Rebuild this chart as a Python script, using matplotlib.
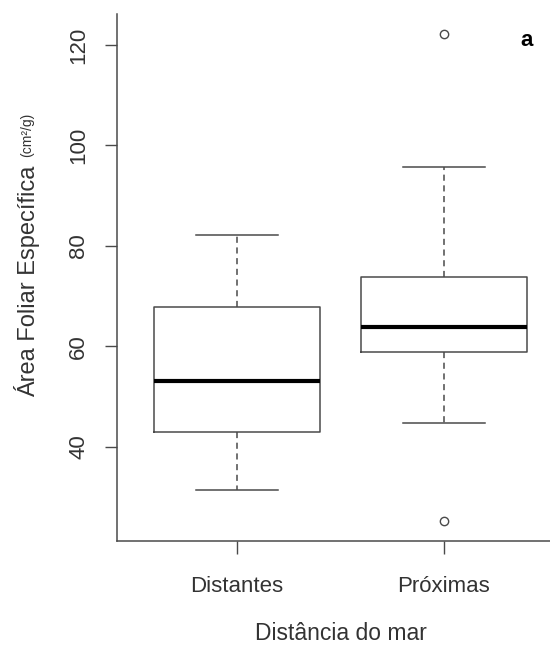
"""Boxplot: specific leaf area by distance from the sea (R-style)."""

import matplotlib

matplotlib.use("Agg")
import matplotlib.pyplot as plt

plt.rcParams["font.family"] = ["Liberation Sans", "DejaVu Sans"]

# Summary values (cm²/g)
GROUPS = ["Distantes", "Próximas"]
MEDIANS = [53.1, 63.8]
Q1 = [42.9, 58.9]
Q3 = [67.9, 73.7]
WHISKER_LOW = [31.3, 44.8]
WHISKER_HIGH = [82.2, 95.7]
OUTLIERS = [[], [122.3, 25.1]]
Y_TICKS = [40, 60, 80, 100, 120]

TEXT_COLOR = "#333333"
LINE_COLOR = "#4a4a4a"

stats = [
    {
        "label": name,
        "med": med,
        "q1": lo,
        "q3": hi,
        "whislo": wlo,
        "whishi": whi,
        "fliers": fl,
    }
    for name, med, lo, hi, wlo, whi, fl in zip(
        GROUPS, MEDIANS, Q1, Q3, WHISKER_LOW, WHISKER_HIGH, OUTLIERS
    )
]

fig = plt.figure(figsize=(5.5, 6.46), dpi=100)
ax = fig.add_axes([117 / 550, 105 / 646, 447 / 550, 527 / 646])

ax.bxp(
    stats,
    positions=[1, 2],
    widths=0.8,
    capwidths=0.4,
    boxprops={"color": LINE_COLOR, "linewidth": 1.1},
    whiskerprops={"color": LINE_COLOR, "linewidth": 1.1, "linestyle": (0, (4, 3))},
    capprops={"color": LINE_COLOR, "linewidth": 1.1},
    medianprops={"color": "black", "linewidth": 3},
    flierprops={
        "marker": "o",
        "markersize": 6,
        "markerfacecolor": "none",
        "markeredgecolor": LINE_COLOR,
        "markeredgewidth": 1.0,
    },
)

ax.set_xlim(0.42, 2.58)
ax.set_ylim(21.2, 126.2)

for side in ("top", "right"):
    ax.spines[side].set_visible(False)
for side in ("left", "bottom"):
    ax.spines[side].set_color(LINE_COLOR)
    ax.spines[side].set_linewidth(1.1)

ax.set_yticks(Y_TICKS)
ax.set_yticklabels([str(v) for v in Y_TICKS], rotation=90, va="center")
ax.set_xticks([1, 2])
ax.set_xticklabels(GROUPS)
ax.tick_params(axis="both", length=9, width=1.0, color=LINE_COLOR,
               labelcolor=TEXT_COLOR, labelsize=16)
ax.tick_params(axis="y", pad=11)
ax.tick_params(axis="x", pad=16)

ax.set_xlabel("Distância do mar", fontsize=16.5, color=TEXT_COLOR, labelpad=18)

# y label: main text plus smaller unit
fig.text(27 / 550, 1 - 397 / 646, "Área Foliar Específica", rotation=90,
         ha="center", va="bottom", fontsize=17, color=TEXT_COLOR)
fig.text(27 / 550, 1 - 157 / 646, "(cm²/g)", rotation=90,
         ha="center", va="bottom", fontsize=10, color=TEXT_COLOR)

fig.text(527 / 550, 1 - 40 / 646, "a", ha="center", va="center",
         fontsize=16, fontweight="bold", color="black")

fig.savefig("out.png", dpi=100)
